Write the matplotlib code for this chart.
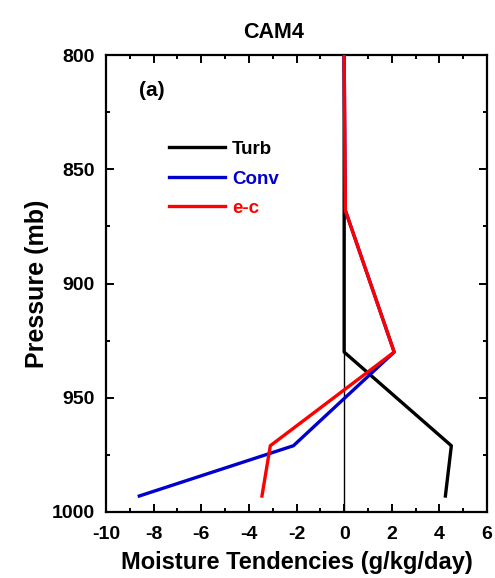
import matplotlib
matplotlib.use("Agg")
import matplotlib.pyplot as plt
from matplotlib.ticker import MultipleLocator

plt.rcParams['font.family'] = ['Liberation Sans', 'DejaVu Sans']
plt.rcParams['font.weight'] = 'bold'
plt.rcParams['axes.unicode_minus'] = False

# pressure levels (mb) and moisture tendencies (g/kg/day)
pressure = [800, 868, 930, 971, 993]
turb = [0.0, 0.0, 0.0, 4.5, 4.25]
conv = [0.0, 0.05, 2.1, -2.13, -8.6]
e_c = [0.0, 0.05, 2.1, -3.1, -3.45]

fig = plt.figure(figsize=(4.95, 5.78), dpi=100)
ax = fig.add_axes([0.214, 0.1142, 0.770, 0.7906])

# thin zero line
ax.axvline(0, color='black', lw=1.0, zorder=1)

ax.plot(turb, pressure, color='black', lw=2.4, label='Turb', zorder=2)
ax.plot(conv, pressure, color='#0000cc', lw=2.4, label='Conv', zorder=3)
ax.plot(e_c, pressure, color='#ff0000', lw=2.4, label='e-c', zorder=4)

ax.set_xlim(-10, 6)
ax.set_ylim(1000, 800)
ax.xaxis.set_major_locator(MultipleLocator(2))
ax.xaxis.set_minor_locator(MultipleLocator(1))
ax.yaxis.set_major_locator(MultipleLocator(50))
ax.yaxis.set_minor_locator(MultipleLocator(25))
ax.tick_params(which='both', direction='in', top=True, right=True, width=1.4)
ax.tick_params(which='major', length=6, labelsize=14)
ax.tick_params(axis='x', which='major', pad=10)
ax.tick_params(axis='y', which='major', pad=8)
ax.tick_params(which='minor', length=3)
for s in ax.spines.values():
    s.set_linewidth(1.6)
for lab in ax.get_xticklabels() + ax.get_yticklabels():
    lab.set_fontweight('bold')

ax.set_xlabel('Moisture Tendencies (g/kg/day)', fontsize=17, fontweight='bold', labelpad=6)
ax.set_ylabel('Pressure (mb)', fontsize=18, fontweight='bold', labelpad=2)
fig.text(0.552, 0.943, 'CAM4', ha='center', va='center', fontsize=15.5, fontweight='bold')

ax.text(0.087, 0.923, '(a)', transform=ax.transAxes, ha='left', va='center',
        fontsize=15, fontweight='bold')

leg = ax.legend(loc='upper left', bbox_to_anchor=(0.165, 0.812), frameon=False,
                fontsize=13.5, handlelength=3.0, handletextpad=0.37,
                labelspacing=0.66, borderpad=0, borderaxespad=0,
                labelcolor='linecolor')
for t in leg.get_texts():
    t.set_fontweight('bold')

fig.savefig('out.png', dpi=100)
